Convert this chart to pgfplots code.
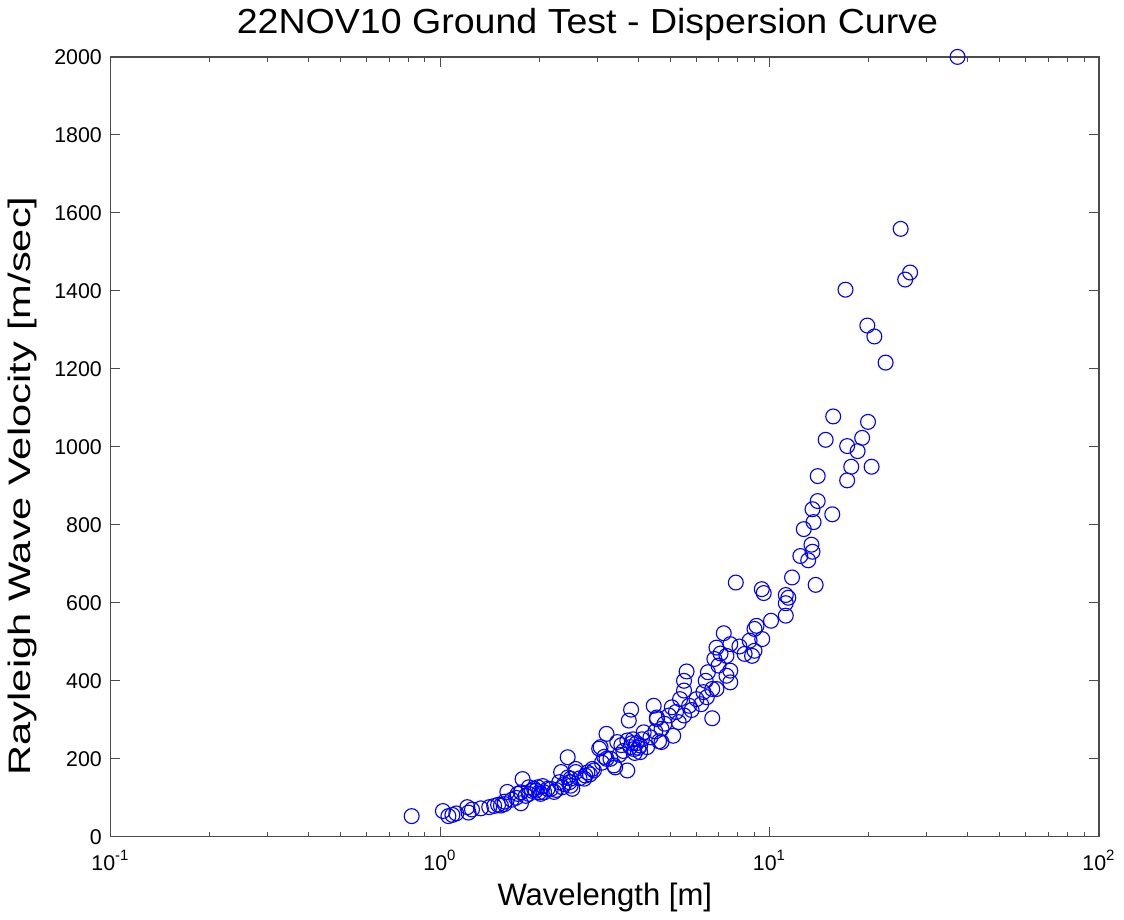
\documentclass[border=0pt]{standalone}
\usepackage{fontspec}
\setmainfont{Liberation Sans}
\usepackage{graphicx}
\usepackage{pgfplots}
\pgfplotsset{compat=1.18}

\begin{document}
\begin{tikzpicture}
\begin{semilogxaxis}[
    scale only axis,
    width=398pt,
    height=314pt,
    xmin=0.1, xmax=100,
    ymin=0, ymax=2000,
    xtick={0.1,1,10,100},
    xticklabels={10\textsuperscript{-1},10\textsuperscript{0},10\textsuperscript{1},10\textsuperscript{2}},
    ytick={0,200,...,2000},
    /pgf/number format/assume math mode=true,
    /pgf/number format/1000 sep={},
    tick align=inside,
    major tick length=4pt,
    minor tick length=2pt,
    tick style={black!70, line width=0.4pt},
    axis line style={black!70, line width=0.5pt},
    ticklabel style={font=\fontsize{8.6}{10}\selectfont},
    xticklabel style={yshift=-2pt},
    title={\scalebox{1.08}[1]{22NOV10 Ground Test - Dispersion Curve}},
    title style={font=\fontsize{14}{16}\selectfont, yshift=-3pt, xshift=-7pt},
    xlabel={Wavelength [m]},
    ylabel={\scalebox{1.34}[1]{Rayleigh Wave Velocity [m/sec]}},
    label style={font=\fontsize{12.5}{14}\selectfont},
    xlabel style={yshift=2pt},
    ylabel style={at={(ticklabel cs:0.45)}},
    clip=false,
]
\addplot[only marks, mark=o, mark size=3pt, color=blue, mark options={line width=0.45pt}] table {
x y
0.82 53
1.02 66
1.06 53
1.09 56
1.12 60
1.21 76
1.22 62
1.25 70
1.33 73
1.41 76
1.46 79
1.50 82
1.53 80
1.57 84
1.57 90
1.60 115
1.65 95
1.70 100
1.72 110
1.76 86
1.76 114
1.78 148
1.82 105
1.86 110
1.86 127
1.90 118
1.93 123
1.95 118
1.98 127
2.00 114
2.02 110
2.05 130
2.07 114
2.12 123
2.17 123
2.22 115
2.25 120
2.30 140
2.33 166
2.35 127
2.38 135
2.44 204
2.44 152
2.47 140
2.49 149
2.49 131
2.52 123
2.58 166
2.58 174
2.65 150
2.74 149
2.76 157
2.80 165
2.85 160
2.93 170
2.90 174
3.04 226
3.07 230
3.10 190
3.15 205
3.20 264
3.20 200
3.29 200
3.37 183
3.40 178
3.45 243
3.50 210
3.55 235
3.60 220
3.70 170
3.70 247
3.74 298
3.78 230
3.80 326
3.82 240
3.85 250
3.88 225
3.90 215
3.95 240
4.00 228
4.05 217
4.05 234
4.10 250
4.15 268
4.25 230
4.35 255
4.45 336
4.50 270
4.55 302
4.55 306
4.62 245
4.70 243
4.70 277
4.80 290
4.95 311
5.05 332
5.10 259
5.20 320
5.30 294
5.35 353
5.50 375
5.50 311
5.50 400
5.60 424
5.70 336
5.80 325
6.00 353
6.20 340
6.30 371
6.40 400
6.45 358
6.50 422
6.70 379
6.70 304
6.80 456
6.90 485
6.90 379
7.00 439
7.10 470
7.26 522
7.40 413
7.40 464
7.60 426
7.60 494
7.60 396
7.90 652
8.10 488
8.40 469
8.70 503
8.85 464
9.00 477
9.00 533
9.13 541
9.47 635
9.50 507
9.60 625
10.1 554
11.2 620
11.4 613
11.2 599
11.2 567
11.7 665
12.4 720
12.7 789
13.1 709
13.4 749
13.5 731
13.5 840
13.6 807
13.8 646
14.0 861
14.0 925
14.8 1018
15.5 827
15.6 1078
17.2 1002
17.2 914
17.7 949
18.5 989
19.1 1023
19.9 1064
20.4 949
17.0 1403
19.8 1311
20.8 1283
22.5 1216
25.0 1559
25.8 1429
26.7 1447
37.2 2000
};
\end{semilogxaxis}
\end{tikzpicture}
\end{document}
